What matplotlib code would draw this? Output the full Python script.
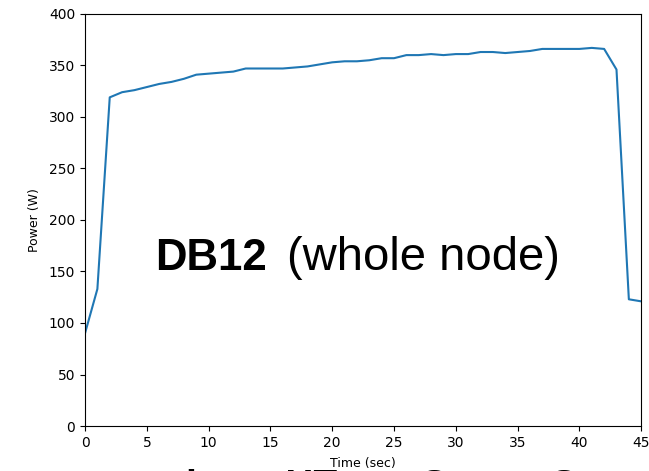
import matplotlib
matplotlib.use("Agg")
import matplotlib.pyplot as plt

# DB12 whole-node power trace, one sample per second
time_sec = list(range(0, 46))
power_w = [90, 133, 319, 324, 326, 329, 332, 334, 337, 341,
           342, 343, 344, 347, 347, 347, 347, 348, 349, 351,
           353, 354, 354, 355, 357, 357, 360, 360, 361, 360,
           361, 361, 363, 363, 362, 363, 364, 366, 366, 366,
           366, 367, 366, 346, 123, 121]

fig = plt.figure(figsize=(6.49, 4.71), dpi=100)
ax = fig.add_axes([0.131, 0.0955, 0.857, 0.875])
ax.plot(time_sec, power_w, color="#1f77b4", linewidth=1.5)
ax.set_xlim(0, 45)
ax.set_ylim(0, 400)
ax.set_xticks(range(0, 46, 5))
ax.set_yticks(range(0, 401, 50))
ax.tick_params(labelsize=10)
ax.set_xlabel("Time (sec)", fontsize=9, labelpad=5.5, zorder=5)
ax.set_ylabel("Power (W)", fontsize=9, labelpad=6)

fig.text(155 / 649, 1 - 270 / 471, "DB12", fontsize=31.5, fontweight="bold",
         family="Liberation Sans", ha="left", va="baseline")
fig.text(287 / 649, 1 - 270 / 471, "(whole node)", fontsize=34,
         family="Liberation Sans", ha="left", va="baseline")

# slide caption underneath, mostly cut off by the bottom edge
fig.text(186 / 649, -26.0 / 471, "is an HT run Score, Score", fontsize=28, fontweight="bold",
         family="Liberation Sans", ha="left", va="baseline", zorder=1)

fig.savefig("out.png", dpi=100)
